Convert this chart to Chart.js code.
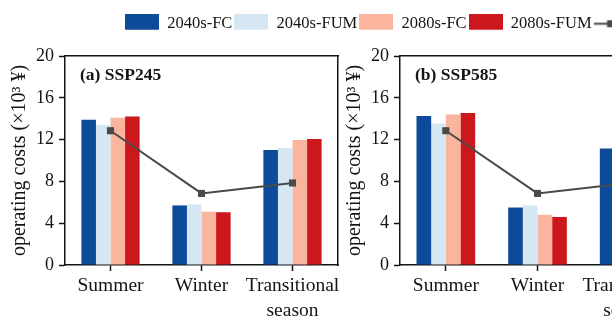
<!DOCTYPE html>
<html>
<head>
<meta charset="utf-8">
<title>Seasonal operating costs</title>
<script src="https://cdn.jsdelivr.net/npm/chart.js@4.4.1/dist/chart.umd.min.js"></script>
<style>
  html, body { margin: 0; padding: 0; background: #ffffff; width: 612px; height: 323px; overflow: hidden; }
  #wrap { position: relative; width: 612px; height: 323px; overflow: hidden; }
  canvas { position: absolute; top: 0; }
</style>
</head>
<body>
<div id="wrap">
  <canvas id="panelA" width="345" height="323" style="left:0px"></canvas>
  <canvas id="panelB" width="345" height="323" style="left:335px"></canvas>
  <canvas id="legend" width="600" height="46" style="left:123px"></canvas>
</div>
<script>
// ---- data: operating costs in 10^3 ¥ per season ----
const seasons = [['Summer'], ['Winter'], ['Transitional', 'season']];
const seriesLabels = ['2040s-FC', '2040s-FUM', '2080s-FC', '2080s-FUM'];
const lineLabel = 'Baseline';

const ssp245FC2040  = [13.9, 5.7, 11.0];
const ssp245FUM2040 = [13.4, 5.8, 11.2];
const ssp245FC2080  = [14.1, 5.1, 11.95];
const ssp245FUM2080 = [14.2, 5.05, 12.05];

const ssp585FC2040  = [14.25, 5.5, 11.15];
const ssp585FUM2040 = [13.55, 5.7, 11.4];
const ssp585FC2080  = [14.4, 4.8, 12.3];
const ssp585FUM2080 = [14.55, 4.6, 12.5];

const baselineCost = [12.85, 6.85, 7.85];

const yTickValues  = [0, 4, 8, 12, 16, 20];
const yMinorValues = [2, 6, 10, 14, 18];

// ---- styling ----
const seriesColors = ['#0d4a9a', '#d5e7f3', '#fbb49d', '#cc171d'];
const lineColor = '#4a4a4a';
const ink = '#141414';
const serif = '"Liberation Serif", "Times New Roman", serif';

const panelTag = {
  id: 'panelTag',
  afterDraw(chart, args, opts) {
    const { ctx, chartArea } = chart;
    ctx.save();
    ctx.font = 'bold 17.5px ' + serif;
    ctx.fillStyle = ink;
    ctx.textBaseline = 'middle';
    ctx.textAlign = 'left';
    ctx.fillText(opts.text, chartArea.left + 15, chartArea.top + 19);
    ctx.restore();
  }
};

function panelConfig(tag, values, padRight) {
  const allTicks = yTickValues.concat(yMinorValues).sort((a, b) => a - b);
  const isMajor = v => yTickValues.includes(v);
  return {
    type: 'bar',
    data: {
      labels: seasons,
      datasets: seriesLabels.map((name, i) => ({
        label: name,
        data: values[i],
        backgroundColor: seriesColors[i],
        borderWidth: 0,
        xAxisID: 'x',
        yAxisID: 'y',
        order: 1
      })).concat([{
        type: 'line',
        label: lineLabel,
        data: baselineCost,
        borderColor: lineColor,
        borderWidth: 2,
        pointStyle: 'rect',
        pointRadius: 5,
        pointBackgroundColor: lineColor,
        pointBorderColor: lineColor,
        pointBorderWidth: 0,
        xAxisID: 'x',
        yAxisID: 'y',
        order: 0
      }])
    },
    options: {
      responsive: false,
      animation: false,
      events: [],
      layout: { padding: { top: 56, right: padRight, bottom: 0, left: 0 } },
      datasets: { bar: { categoryPercentage: 0.64, barPercentage: 1.0 } },
      scales: {
        x: {
          type: 'category',
          position: 'bottom',
          offset: true,
          grid: { drawOnChartArea: false, drawTicks: true, tickLength: 6, offset: false, tickColor: ink, tickWidth: 1.5 },
          border: { display: true, color: ink, width: 1.5 },
          ticks: { font: { family: serif, size: 19.5, lineHeight: 1.28 }, color: ink, padding: 2, maxRotation: 0, autoSkip: false },
          afterFit: s => { s.height = 58; }
        },
        xTop: {
          type: 'category',
          position: 'top',
          grid: { display: false },
          ticks: { display: false },
          border: { display: true, color: ink, width: 1.5 },
          afterFit: s => { s.height = 0; }
        },
        y: {
          type: 'linear',
          position: 'left',
          min: 0,
          max: 20,
          afterBuildTicks: s => { s.ticks = allTicks.map(v => ({ value: v })); },
          ticks: {
            font: { family: serif, size: 18 },
            color: ink,
            padding: 5,
            callback: v => (isMajor(v) ? String(v) : '')
          },
          grid: {
            drawOnChartArea: false,
            drawTicks: true,
            tickLength: 6,
            tickColor: ink,
            tickWidth: 1.5,
            tickBorderDash: c => (c.tick && !isMajor(c.tick.value) ? [3, 3] : []),
            tickBorderDashOffset: c => (c.tick && !isMajor(c.tick.value) ? 3 : 0)
          },
          border: { display: true, color: ink, width: 1.5 },
          title: {
            display: true,
            text: 'operating costs (×10³ ¥)',
            font: { family: serif, size: 20 },
            color: ink,
            padding: { top: 8, bottom: 0 }
          },
          afterFit: s => { s.width = 65; }
        },
        yRight: {
          type: 'linear',
          position: 'right',
          min: 0,
          max: 20,
          grid: { display: false },
          ticks: { display: false },
          border: { display: true, color: ink, width: 1.5 },
          afterFit: s => { s.width = 0; }
        }
      },
      plugins: {
        legend: { display: false },
        tooltip: { enabled: false },
        panelTag: { text: tag }
      }
    },
    plugins: [panelTag]
  };
}

new Chart(document.getElementById('panelA'),
  panelConfig('(a) SSP245', [ssp245FC2040, ssp245FUM2040, ssp245FC2080, ssp245FUM2080], 7));
new Chart(document.getElementById('panelB'),
  panelConfig('(b) SSP585', [ssp585FC2040, ssp585FUM2040, ssp585FC2080, ssp585FUM2080], 3));

// ---- shared legend ----
function boxSwatch(color) {
  const c = document.createElement('canvas');
  c.width = 34; c.height = 19;
  const g = c.getContext('2d');
  g.fillStyle = color;
  g.fillRect(0, 0, 34, 19);
  return c;
}
function lineSwatch(color) {
  const c = document.createElement('canvas');
  c.width = 34; c.height = 19;
  const g = c.getContext('2d');
  g.strokeStyle = color;
  g.lineWidth = 2;
  g.beginPath(); g.moveTo(0, 9.5); g.lineTo(34, 9.5); g.stroke();
  g.fillStyle = color;
  g.fillRect(13.5, 6, 7, 7);
  return c;
}

const legendSets = seriesLabels.map((name, i) => ({ type: 'bar', label: name, data: [], backgroundColor: seriesColors[i] }))
  .concat([{ type: 'line', label: lineLabel, data: [], borderColor: lineColor }]);

new Chart(document.getElementById('legend'), {
  type: 'bar',
  data: { labels: [], datasets: legendSets },
  options: {
    responsive: false,
    animation: false,
    events: [],
    layout: { padding: { top: 13.5, left: 0, right: 0, bottom: 0 } },
    scales: { x: { display: false }, y: { display: false } },
    plugins: {
      tooltip: { enabled: false },
      legend: {
        display: true,
        position: 'top',
        align: 'start',
        labels: {
          usePointStyle: true,
          pointStyleWidth: 34,
          boxHeight: 19,
          padding: 2,
          color: ink,
          font: { family: serif, size: 16.5 },
          generateLabels: chart => chart.data.datasets.map((ds, i) => ({
            text: ds.label,
            datasetIndex: i,
            hidden: false,
            lineWidth: 0,
            fillStyle: ds.backgroundColor || ds.borderColor,
            strokeStyle: ds.borderColor || ds.backgroundColor,
            fontColor: ink,
            pointStyle: ds.type === 'line' ? lineSwatch(ds.borderColor) : boxSwatch(ds.backgroundColor)
          }))
        }
      }
    }
  }
});
</script>
</body>
</html>
